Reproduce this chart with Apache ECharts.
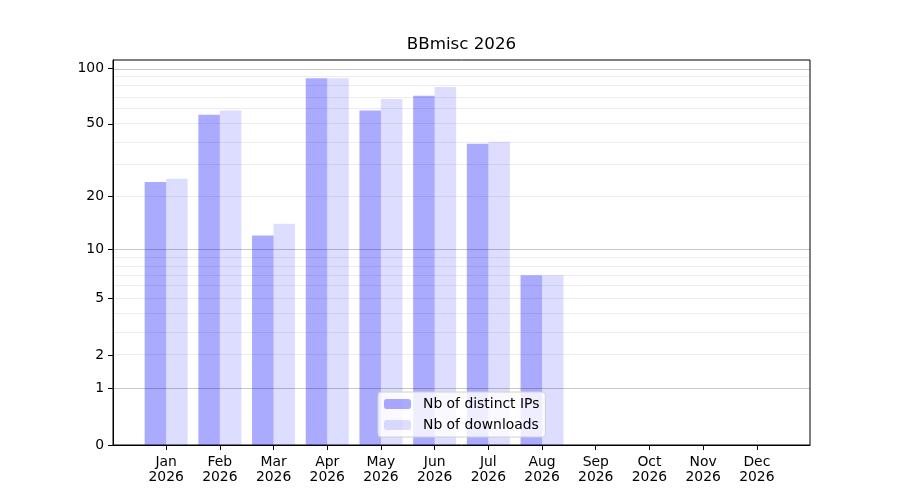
<!DOCTYPE html>
<html>
<head>
<meta charset="utf-8">
<script src="https://cdn.jsdelivr.net/npm/echarts@6/dist/echarts.min.js"></script>
<style>
html, body { margin: 0; padding: 0; background: #fff; }
#chart { width: 900px; height: 500px; }
</style>
</head>
<body>
<div id="chart"></div>
<script>
var months = ['Jan', 'Feb', 'Mar', 'Apr', 'May', 'Jun', 'Jul', 'Aug', 'Sep', 'Oct', 'Nov', 'Dec'];
var year = '2026';
var distinctIPs = [24, 56, 12, 88, 59, 71, 39, 7];
var downloads = [25, 59, 14, 88, 68, 79, 40, 7];
var yTicks = [0, 1, 2, 5, 10, 20, 50, 100];
var majorGrid = [1, 10, 100];
var minorGrid = [2, 3, 4, 5, 6, 7, 8, 9, 20, 30, 40, 50, 60, 70, 80, 90];

// y scale is log10(1 + v), like the original plot
function tr(v) { return Math.log10(1 + v); }

var font = 'DejaVu Sans';

function toPoints(arr) {
	var out = [];
	for (var i = 0; i < arr.length; i++) {
		out.push([i, tr(arr[i])]);
	}
	return out;
}

var gridLines = [];
minorGrid.forEach(function (t) {
	gridLines.push({ yAxis: tr(t), lineStyle: { color: 'rgba(0,0,0,0.07)', width: 1, type: 'solid' } });
});
majorGrid.forEach(function (t) {
	gridLines.push({ yAxis: tr(t), lineStyle: { color: 'rgba(0,0,0,0.22)', width: 1, type: 'solid' } });
});

var monthIdx = months.map(function (m, i) { return i; });

var chart = echarts.init(document.getElementById('chart'));
chart.setOption({
	animation: false,
	title: {
		text: 'BBmisc ' + year,
		left: 461.5,
		top: 36,
		textAlign: 'center',
		padding: 0,
		textStyle: { fontFamily: font, fontSize: 16.7, fontWeight: 'normal', color: '#000' }
	},
	legend: {
		orient: 'vertical',
		left: 378,
		top: 392,
		padding: [4, 6, 4, 6],
		itemWidth: 27,
		itemHeight: 10,
		itemGap: 5,
		backgroundColor: 'rgba(255,255,255,0.8)',
		borderColor: '#d0d0d0',
		borderWidth: 1,
		borderRadius: 3,
		textStyle: { fontFamily: font, fontSize: 13.9, color: '#000', lineHeight: 16, padding: [0, 0, 0, 7] },
		data: ['Nb of distinct IPs', 'Nb of downloads']
	},
	grid: {
		left: 113, right: 90, top: 60, bottom: 55,
		show: true, borderColor: '#000', borderWidth: 1, backgroundColor: 'transparent'
	},
	xAxis: {
		type: 'value',
		min: -0.99,
		max: 11.99,
		splitLine: { show: false },
		axisLine: { onZero: false, lineStyle: { color: '#000' } },
		axisTick: { show: true, length: 5, lineStyle: { color: '#000' }, customValues: monthIdx },
		axisLabel: {
			customValues: monthIdx,
			formatter: function (v) { return months[Math.round(v)] + '\n' + year; },
			fontFamily: font, fontSize: 13.9, color: '#000', lineHeight: 15, margin: 10
		}
	},
	yAxis: {
		type: 'value',
		min: 0,
		max: 385 / (377 / tr(100)),
		splitLine: { show: false },
		axisLine: { show: true, onZero: false, lineStyle: { color: '#000' } },
		axisTick: { show: true, length: 5, lineStyle: { color: '#000' }, customValues: yTicks.map(tr) },
		axisLabel: {
			customValues: yTicks.map(tr),
			formatter: function (v) { return String(Math.round(Math.pow(10, v) - 1)); },
			fontFamily: font, fontSize: 13.9, color: '#000', margin: 9
		}
	},
	series: [
		{
			type: 'line',
			data: [],
			silent: true,
			z: 1,
			markLine: { silent: true, symbol: 'none', label: { show: false }, animation: false, data: gridLines }
		},
		{
			name: 'Nb of distinct IPs',
			type: 'bar',
			z: 2,
			barWidth: 21.5,
			barGap: '0%',
			itemStyle: { color: 'rgba(0,0,255,0.333)' },
			data: toPoints(distinctIPs)
		},
		{
			name: 'Nb of downloads',
			type: 'bar',
			z: 2,
			barWidth: 21.5,
			barGap: '0%',
			itemStyle: { color: 'rgba(0,0,255,0.133)' },
			data: toPoints(downloads)
		}
	]
});
</script>
</body>
</html>
